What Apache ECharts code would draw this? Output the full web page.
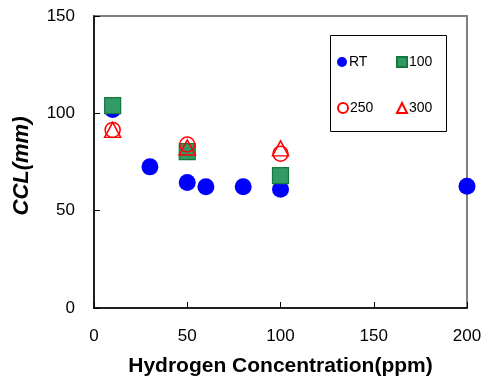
<!DOCTYPE html>
<html>
<head>
<meta charset="utf-8">
<script src="https://cdn.jsdelivr.net/npm/echarts@6/dist/echarts.min.js"></script>
<style>
  html, body { margin: 0; padding: 0; background: #fff; }
  #chart { width: 492px; height: 392px; }
</style>
</head>
<body>
<div id="chart"></div>
<script>
// Crack length (CCL) versus hydrogen concentration at four test temperatures
const xTicks = [0, 50, 100, 150, 200];
const yTicks = [0, 50, 100, 150];

const rtH   = [10, 30, 50, 60, 80, 100, 200];
const rtCCL = [102, 72.5, 64.5, 62.3, 62.3, 61, 62.5];

const t100H   = [10, 50, 100];
const t100CCL = [104, 80.3, 68];

const t250H   = [10, 50, 100];
const t250CCL = [91.5, 84, 79.3];

const t300H   = [10, 50, 100];
const t300CCL = [91.5, 82.5, 82];

const pairs = (xs, ys) => xs.map((x, i) => [x, ys[i]]);

const font = 'Liberation Sans, Arial, sans-serif';
const blue = '#0000ff';
const green = '#339966';
const greenEdge = '#127a3a';
const red = '#ff0000';

const chart = echarts.init(document.getElementById('chart'), null, { renderer: 'canvas' });

function legendAt(name, left, top) {
  return {
    data: [name],
    left: left, top: top, z: 20,
    orient: 'horizontal',
    itemWidth: 10, itemHeight: 10, itemGap: 4,
    padding: 0,
    selectedMode: false,
    textStyle: { fontFamily: font, fontSize: 14, color: '#000', padding: [0, 0, 0, -3] }
  };
}

chart.setOption({
  animation: false,
  backgroundColor: '#fff',
  grid: {
    left: 94, top: 16, right: 25, bottom: 84,
    show: true, borderColor: '#7f7f7f', borderWidth: 2, backgroundColor: 'transparent'
  },
  xAxis: {
    type: 'value', min: xTicks[0], max: xTicks[xTicks.length - 1], interval: 50,
    name: 'Hydrogen Concentration(ppm)', nameLocation: 'middle', nameGap: 48,
    nameTextStyle: { fontFamily: font, fontSize: 21, fontWeight: 'bold', color: '#000' },
    axisLine: { show: true, lineStyle: { color: '#000', width: 1.5 } },
    axisTick: { show: true, inside: true, length: 6, lineStyle: { color: '#000', width: 1 } },
    axisLabel: { fontFamily: font, fontSize: 17, color: '#000', margin: 20 },
    splitLine: { show: false }
  },
  yAxis: {
    type: 'value', min: yTicks[0], max: yTicks[yTicks.length - 1], interval: 50,
    name: 'CCL(mm)', nameLocation: 'middle', nameGap: 61, nameRotate: 90,
    nameTextStyle: { fontFamily: font, fontSize: 22, fontWeight: 'bold', fontStyle: 'italic', color: '#000', padding: [0, 8, 0, 0] },
    axisLine: { show: true, lineStyle: { color: '#000', width: 1.5 } },
    axisTick: { show: true, inside: true, length: 6, lineStyle: { color: '#000', width: 1 } },
    axisLabel: { fontFamily: font, fontSize: 17, color: '#000', margin: 19 },
    splitLine: { show: false }
  },
  graphic: [{
    type: 'rect', left: 330, top: 35, z: 0, zlevel: 0,
    shape: { width: 116, height: 96 },
    style: { fill: '#fff', stroke: '#000', lineWidth: 1 }
  }],
  legend: [
    legendAt('RT', 337, 55),
    legendAt('100', 396, 55),
    legendAt('250', 337, 101),
    legendAt('300', 396, 101)
  ],
  series: [
    {
      name: 'RT', type: 'scatter', symbol: 'circle', symbolSize: 17,
      itemStyle: { color: blue, opacity: 1 },
      data: pairs(rtH, rtCCL)
    },
    {
      name: '100', type: 'scatter', symbol: 'rect', symbolSize: 16,
      itemStyle: { color: green, borderColor: greenEdge, borderWidth: 1.2, opacity: 1 },
      data: pairs(t100H, t100CCL)
    },
    {
      name: '250', type: 'scatter', symbol: 'circle', symbolSize: 15,
      itemStyle: { color: 'rgba(0,0,0,0)', borderColor: red, borderWidth: 1.5, opacity: 1 },
      data: pairs(t250H, t250CCL)
    },
    {
      name: '300', type: 'scatter', symbol: 'triangle', symbolSize: [16, 15],
      itemStyle: { color: 'rgba(0,0,0,0)', borderColor: red, borderWidth: 1.5, opacity: 1 },
      data: pairs(t300H, t300CCL)
    }
  ]
});
</script>
</body>
</html>
